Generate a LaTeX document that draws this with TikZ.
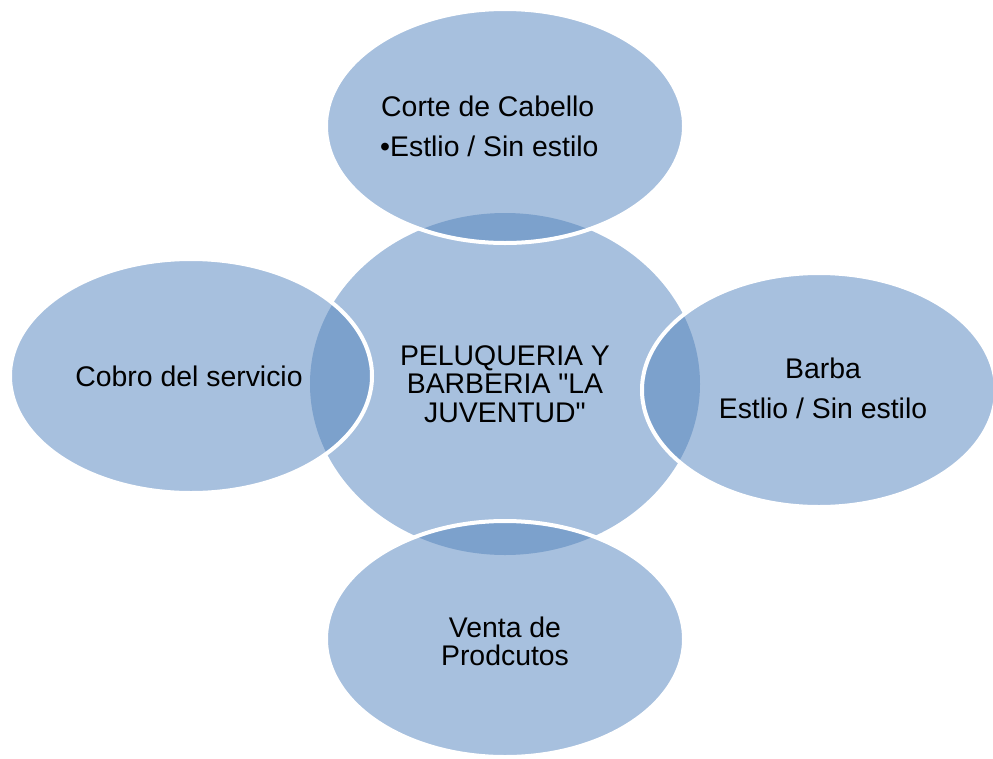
\documentclass[tikz,border=0pt]{standalone}
\usepackage{fontspec}
\setmainfont{Liberation Sans}
\newfontfamily\plainsans{Liberation Sans}
\definecolor{lightfill}{RGB}{167,192,222}
\definecolor{darkfill}{RGB}{124,161,204}
\begin{document}
\begin{tikzpicture}[x=1pt,y=-1pt,
  txt/.style={inner sep=0pt,font=\plainsans\fontsize{28.4}{29}\selectfont,text=black},
  rim/.style={draw=white,line width=4pt}]
\useasboundingbox (0,0) rectangle (993,758);
\def\centerpath{(505,384) ellipse [x radius=195, y radius=171]}
\def\toppath{(505,126) ellipse [x radius=179, y radius=117]}
\def\bottompath{(505,639) ellipse [x radius=179, y radius=118]}
\def\leftpath{(191,376) ellipse [x radius=181, y radius=117]}
\def\rightpath{(819,390) ellipse [x radius=177, y radius=117]}
% fills
\fill[lightfill] \centerpath;
\fill[lightfill] \toppath;
\fill[lightfill] \bottompath;
\fill[lightfill] \leftpath;
\fill[lightfill] \rightpath;
% overlaps
\begin{scope}
  \clip \centerpath;
  \fill[darkfill] \toppath;
  \fill[darkfill] \bottompath;
  \fill[darkfill] \leftpath;
  \fill[darkfill] \rightpath;
\end{scope}
% white rims of the outer ellipses
\draw[rim] \toppath;
\draw[rim] \bottompath;
\draw[rim] \leftpath;
\draw[rim] \rightpath;
% texts
\node[txt,anchor=base west] (top1) at (381,116) {Corte de Cabello};
\node[txt,anchor=base west] (top2) at (380,156) {•Estlio / Sin estilo};
\node[txt,anchor=base] (c1) at (505,365) {PELUQUERIA Y};
\node[txt,anchor=base] (c2) at (505,393) {BARBERIA "LA};
\node[txt,anchor=base] (c3) at (505,422) {JUVENTUD"};
\node[txt,anchor=base] (left1) at (189,386) {Cobro del servicio};
\node[txt,anchor=base] (right1) at (823,378) {Barba};
\node[txt,anchor=base] (right2) at (823,418) {Estlio / Sin estilo};
\node[txt,anchor=base] (bot1) at (505,637) {Venta de};
\node[txt,anchor=base] (bot2) at (505,665) {Prodcutos};
\end{tikzpicture}
\end{document}
